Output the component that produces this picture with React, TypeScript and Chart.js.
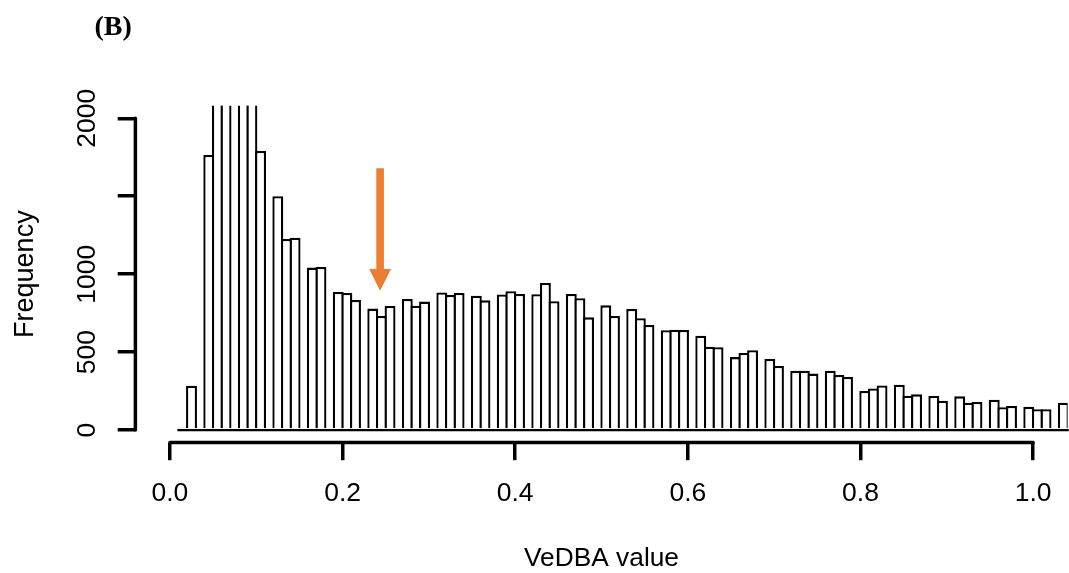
import React, { useEffect, useRef } from "react";
import { Chart, registerables } from "chart.js";

Chart.register(...registerables);

// Histogram of VeDBA values, bin width 0.01, first bin starts at 0.01
const FIRST_BIN = 0.01;
const BIN_WIDTH = 0.01;
const counts = [
  15, 284, 0, 1765, 2700, 3200, 0, 2900, 2500, 1790, // 0.01-0.10
  0, 1500, 1226, 1234, 0, 1042, 1046, 0, 886, 879, // 0.11-0.20
  834, 0, 779, 732, 796, 0, 841, 798, 824, 0, // 0.21-0.30
  882, 866, 879, 0, 862, 832, 0, 869, 890, 873, // 0.31-0.40
  0, 871, 943, 826, 0, 873, 845, 723, 0, 800, // 0.41-0.50
  732, 0, 777, 717, 674, 0, 640, 644, 642, 0, // 0.51-0.60
  605, 535, 531, 0, 468, 494, 512, 0, 456, 411, // 0.61-0.70
  0, 381, 381, 362, 0, 381, 353, 340, 0, 250, // 0.71-0.80
  267, 286, 0, 291, 220, 229, 0, 218, 188, 0, // 0.81-0.90
  216, 175, 180, 0, 195, 146, 154, 0, 150, 133, // 0.91-1.00
  133, 0, 175, // 1.01-1.03
];

const xTickValues = [0, 0.2, 0.4, 0.6, 0.8, 1.0];
const yTickValues = [0, 500, 1000, 1500, 2000];
const yTickLabelsHidden = [1500];

const X_RANGE = [-0.04, 1.04];
const Y_RANGE = [-80, 2080];
const X_AXIS_SPAN = [0, 1];
const Y_AXIS_SPAN = [0, 2000];

// Orange arrow annotation (data coordinates)
const arrowX = 0.2435;
const arrowTop = 1680;
const arrowTip = 894;

const ORANGE = "#ED7D31";
const FONT = '"Liberation Sans", Arial, Helvetica, sans-serif';
const BAR_LINE = 2.3;

const binCenters = counts.map((_, i) => +(FIRST_BIN + BIN_WIDTH * i + BIN_WIDTH / 2).toFixed(4));
const lastEdge = +(FIRST_BIN + BIN_WIDTH * counts.length).toFixed(4);

const W = 1069;
const H = 573;

const decorPlugin = {
  id: "decor",
  afterDatasetsDraw(chart: any) {
    const { ctx, scales } = chart;
    const xs = scales.x;
    const ys = scales.y;
    ctx.save();
    // histogram baseline (zero-height bins)
    const y0 = ys.getPixelForValue(0);
    ctx.strokeStyle = "#000";
    ctx.lineWidth = BAR_LINE;
    ctx.beginPath();
    ctx.moveTo(xs.getPixelForValue(FIRST_BIN) - BAR_LINE / 2, y0);
    ctx.lineTo(xs.getPixelForValue(lastEdge) + BAR_LINE / 2, y0);
    ctx.stroke();

    // arrow
    const ax = xs.getPixelForValue(arrowX);
    const aTop = ys.getPixelForValue(arrowTop);
    const aTip = ys.getPixelForValue(arrowTip);
    const headLen = 21.7;
    const headHalf = 10.9;
    const shaftHalf = 3.8;
    ctx.fillStyle = ORANGE;
    ctx.beginPath();
    ctx.moveTo(ax - shaftHalf, aTop);
    ctx.lineTo(ax + shaftHalf, aTop);
    ctx.lineTo(ax + shaftHalf, aTip - headLen);
    ctx.lineTo(ax + headHalf, aTip - headLen);
    ctx.lineTo(ax, aTip);
    ctx.lineTo(ax - headHalf, aTip - headLen);
    ctx.lineTo(ax - shaftHalf, aTip - headLen);
    ctx.closePath();
    ctx.fill();
    ctx.restore();
  },
  afterDraw(chart: any) {
    const { ctx, scales, chartArea } = chart;
    const xs = scales.x;
    const ys = scales.y;
    ctx.save();
    ctx.strokeStyle = "#000";
    ctx.lineWidth = 3.5;
    ctx.lineCap = "round";
    ctx.beginPath();
    ctx.moveTo(xs.getPixelForValue(X_AXIS_SPAN[0]), chartArea.bottom);
    ctx.lineTo(xs.getPixelForValue(X_AXIS_SPAN[1]), chartArea.bottom);
    ctx.stroke();
    ctx.beginPath();
    ctx.moveTo(chartArea.left, ys.getPixelForValue(Y_AXIS_SPAN[0]));
    ctx.lineTo(chartArea.left, ys.getPixelForValue(Y_AXIS_SPAN[1]));
    ctx.stroke();
    ctx.restore();
  },
};

export default function App() {
  const ref = useRef<HTMLCanvasElement | null>(null);
  useEffect(() => {
    if (!ref.current) return;
    const chart = new Chart(ref.current, {
      type: "bar",
      data: {
        datasets: [
          {
            label: "Frequency",
            data: counts.map((c, i) => ({ x: binCenters[i], y: c })),
            backgroundColor: "#ffffff",
            borderColor: "#000000",
            borderWidth: BAR_LINE,
            borderSkipped: "start",
            barPercentage: 1 + BAR_LINE / 8.645,
            categoryPercentage: 1,
          },
        ],
      },
      options: {
        responsive: false,
        animation: false,
        layout: { padding: { top: 105.8, left: 0, right: 0, bottom: 0 } },
        plugins: { legend: { display: false }, tooltip: { enabled: false }, title: { display: false } },
        scales: {
          x: {
            type: "linear",
            min: X_RANGE[0],
            max: X_RANGE[1],
            offset: false,
            border: { display: false },
            grid: {
              offset: false,
              drawOnChartArea: false,
              drawTicks: true,
              tickLength: 17.7,
              lineWidth: 3.5,
              color: "#000",
            },
            ticks: {
              autoSkip: false,
              maxRotation: 0,
              minRotation: 0,
              padding: 17.5,
              color: "#000",
              font: { family: FONT, size: 26.5 },
              callback: (v: any) => Number(v).toFixed(1),
            },
            afterBuildTicks: (s: any) => {
              s.ticks = xTickValues.map((v) => ({ value: v }));
            },
            afterFit: (s: any) => {
              s.height = H - 442.5;
            },
            title: {
              display: true,
              text: "VeDBA value",
              color: "#000",
              font: { family: FONT, size: 26.3, lineHeight: 1 },
              padding: { top: 0, bottom: 1 },
            },
          },
          y: {
            type: "linear",
            min: Y_RANGE[0],
            max: Y_RANGE[1],
            border: { display: false },
            grid: {
              drawOnChartArea: false,
              drawTicks: true,
              tickLength: 17.7,
              lineWidth: 3.5,
              color: "#000",
            },
            ticks: {
              autoSkip: false,
              minRotation: 90,
              maxRotation: 90,
              crossAlign: "center",
              padding: 0.5,
              color: "#000",
              font: { family: FONT, size: 26.5 },
              callback: (v: any) => (yTickLabelsHidden.includes(Number(v)) ? "" : String(v)),
            },
            afterBuildTicks: (s: any) => {
              s.ticks = yTickValues.map((v) => ({ value: v }));
            },
            afterFit: (s: any) => {
              s.width = 135.4;
            },
            title: {
              display: true,
              text: "Frequency",
              color: "#000",
              font: { family: FONT, size: 27 },
              padding: { top: 9.4, bottom: 0 },
            },
          },
        },
      },
      plugins: [decorPlugin],
    } as any);
    return () => chart.destroy();
  }, []);

  return (
    <div style={{ position: "absolute", left: 0, top: 0, width: W, height: H, background: "#fff" }}>
      <canvas ref={ref} width={W} height={H} style={{ display: "block" }} />
      <div
        style={{
          position: "absolute",
          left: 94.5,
          top: 11.5,
          fontFamily: '"Liberation Serif", "Times New Roman", serif',
          fontWeight: "bold",
          fontSize: 28,
          lineHeight: "28px",
          color: "#000",
          whiteSpace: "nowrap",
        }}
      >
        (B)
      </div>
    </div>
  );
}
